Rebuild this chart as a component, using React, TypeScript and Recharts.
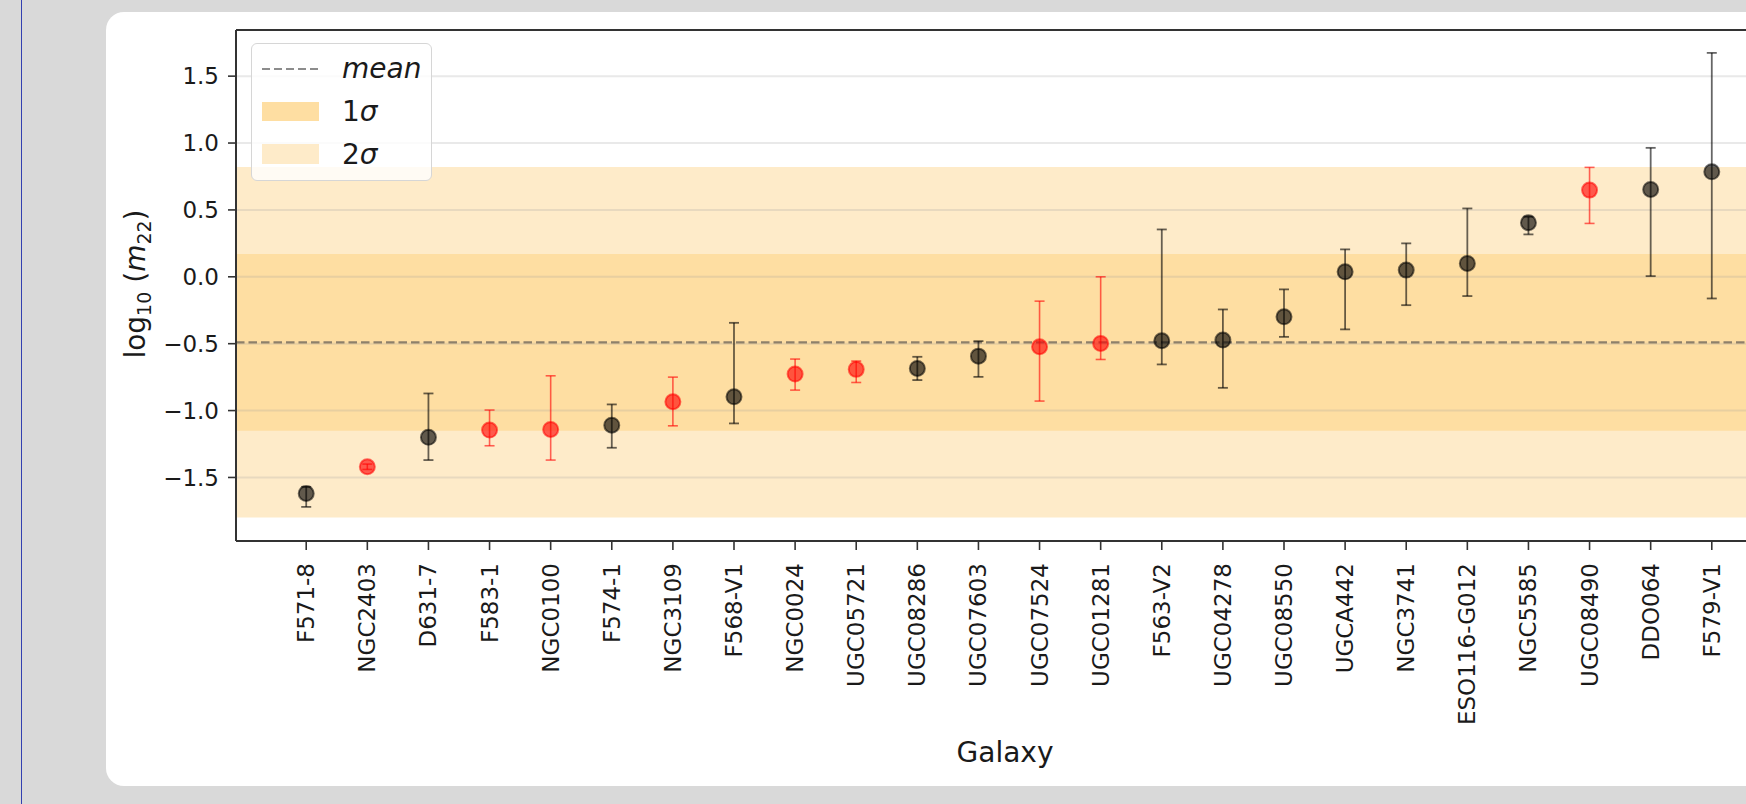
import {
  ComposedChart,
  ErrorBar,
  ReferenceArea,
  ReferenceLine,
  Scatter,
  XAxis,
  YAxis,
} from 'recharts'

const galaxies = [
  'F571-8', 'NGC2403', 'D631-7', 'F583-1', 'NGC0100', 'F574-1', 'NGC3109', 'F568-V1',
  'NGC0024', 'UGC05721', 'UGC08286', 'UGC07603', 'UGC07524', 'UGC01281', 'F563-V2', 'UGC04278',
  'UGC08550', 'UGCA442', 'NGC3741', 'ESO116-G012', 'NGC5585', 'UGC08490', 'DDO064', 'F579-V1',
]
const logM22 = [
  -1.62, -1.42, -1.2, -1.146, -1.141, -1.109, -0.934, -0.897,
  -0.727, -0.692, -0.685, -0.593, -0.523, -0.498, -0.478, -0.473,
  -0.299, 0.037, 0.05, 0.1, 0.404, 0.648, 0.653, 0.785,
]
const lowerBound = [
  -1.72, -1.44, -1.37, -1.263, -1.37, -1.278, -1.114, -1.096,
  -0.847, -0.79, -0.772, -0.748, -0.929, -0.618, -0.655, -0.83,
  -0.449, -0.393, -0.212, -0.144, 0.317, 0.399, 0.005, -0.162,
]
const upperBound = [
  -1.57, -1.4, -0.872, -0.996, -0.74, -0.954, -0.75, -0.344,
  -0.615, -0.63, -0.598, -0.481, -0.182, 0.0, 0.354, -0.244,
  -0.094, 0.205, 0.25, 0.511, 0.449, 0.818, 0.964, 1.674,
]
const flagged = [
  false, true, false, true, true, false, true, false,
  true, true, false, false, true, true, false, false,
  false, false, false, false, false, true, false, false,
]
const yTicks = [-1.5, -1.0, -0.5, 0.0, 0.5, 1.0, 1.5]
const meanValue = -0.49
const oneSigma = [-1.15, 0.17]
const twoSigma = [-1.8, 0.82]
const yDomain: [number, number] = [-1.975, 1.845]
const xDomain: [number, number] = [-1.149, 24.149]

const FONT = '"DejaVu Sans", sans-serif'
const C1 = '#fedea2'
const C2 = '#feebc9'

const points = galaxies.map((name, i) => ({
  x: i,
  y: logM22[i],
  err: [logM22[i] - lowerBound[i], upperBound[i] - logM22[i]],
  name,
  red: flagged[i],
}))
const blackPts = points.filter((p) => !p.red)
const redPts = points.filter((p) => p.red)

const fmt = (v: number) => (v < 0 ? '\u2212' + Math.abs(v).toFixed(1) : v.toFixed(1))

function XTick({ x, y, payload }: any) {
  return (
    <text
      x={x}
      y={y}
      transform={`rotate(-90, ${x}, ${y})`}
      textAnchor="end"
      dominantBaseline="central"
      fontSize={23}
      fontFamily={FONT}
      fill="#1a1a1a"
    >
      {galaxies[payload.value]}
    </text>
  )
}

function YLabel() {
  const x = 145
  const y = 284
  return (
    <text
      x={x}
      y={y}
      transform={`rotate(-90, ${x}, ${y})`}
      textAnchor="middle"
      fontSize={28}
      fontFamily={FONT}
      fill="#1a1a1a"
    >
      log
      <tspan fontSize={19} dy={6}>10</tspan>
      <tspan dy={-6}> (</tspan>
      <tspan fontStyle="italic">m</tspan>
      <tspan fontSize={19} dy={6}>22</tspan>
      <tspan dy={-6}>)</tspan>
    </text>
  )
}

function XLabel() {
  return (
    <text x={1005} y={762} textAnchor="middle" fontSize={28} fontFamily={FONT} fill="#1a1a1a">
      Galaxy
    </text>
  )
}

function dot(color: string) {
  return (p: any) => (
    <circle
      cx={p.cx}
      cy={p.cy}
      r={7.5}
      fill={color}
      fillOpacity={0.62}
      stroke={color}
      strokeOpacity={0.55}
      strokeWidth={2}
    />
  )
}

function LegendBox() {
  return (
    <div
      style={{
        position: 'absolute',
        left: 251,
        top: 43,
        width: 181,
        height: 138,
        boxSizing: 'border-box',
        border: '1.5px solid #d6d6d6',
        borderRadius: 6,
        background: 'rgba(255,255,255,0.8)',
        fontFamily: FONT,
      }}
    >
      <svg width={181} height={138} style={{ position: 'absolute', left: -1, top: -1 }}>
        <line x1={11} x2={68} y1={26} y2={26} stroke="#8c8c8c" strokeWidth={2.2} strokeDasharray="8 4" />
        <rect x={11} y={59} width={57} height={19} fill={C1} />
        <rect x={11} y={101} width={57} height={20} fill={C2} />
        <text x={91} y={35} fontSize={28} fontStyle="italic" fill="#1a1a1a" fontFamily={FONT}>
          mean
        </text>
        <text x={91} y={78} fontSize={28} fill="#1a1a1a" fontFamily={FONT}>
          1<tspan fontStyle="italic">σ</tspan>
        </text>
        <text x={91} y={121} fontSize={28} fill="#1a1a1a" fontFamily={FONT}>
          2<tspan fontStyle="italic">σ</tspan>
        </text>
      </svg>
    </div>
  )
}

export default function App() {
  return (
    <div
      style={{
        position: 'fixed',
        left: 0,
        top: 0,
        width: 1746,
        height: 804,
        overflow: 'hidden',
        background: '#d9d9d9',
      }}
    >
      <div style={{ position: 'absolute', left: 21, top: 0, width: 1, height: 804, background: '#3340b0' }} />
      <div
        style={{
          position: 'absolute',
          left: 106,
          top: 12,
          width: 1720,
          height: 774,
          borderRadius: 18,
          background: '#fff',
        }}
      />
      <div style={{ position: 'absolute', left: 0, top: 0 }}>
        <ComposedChart
          width={1800}
          height={804}
          margin={{ top: 30, right: 18, bottom: 43, left: 136 }}
        >
          <XAxis
            dataKey="x"
            type="number"
            domain={xDomain}
            allowDataOverflow
            ticks={galaxies.map((_, i) => i)}
            interval={0}
            tick={<XTick />}
            tickSize={9}
            tickMargin={13}
            height={220}
            axisLine={{ stroke: '#333', strokeWidth: 2 }}
            tickLine={{ stroke: '#333', strokeWidth: 1.6 }}
            label={<XLabel />}
          />
          <YAxis
            dataKey="y"
            type="number"
            domain={yDomain}
            allowDataOverflow
            ticks={yTicks}
            tickFormatter={fmt}
            width={100}
            tickSize={8}
            tickMargin={9}
            tick={{ fontSize: 23, fontFamily: FONT, fill: '#1a1a1a' }}
            axisLine={{ stroke: '#333', strokeWidth: 2 }}
            tickLine={{ stroke: '#333', strokeWidth: 1.6 }}
            label={<YLabel />}
          />
          <ReferenceArea y1={twoSigma[0]} y2={twoSigma[1]} fill={C2} fillOpacity={1} stroke="none" />
          <ReferenceArea y1={oneSigma[0]} y2={oneSigma[1]} fill={C1} fillOpacity={1} stroke="none" />
          {yTicks.map((t) => (
            <ReferenceLine key={t} y={t} stroke="#9a9a9a" strokeOpacity={0.22} strokeWidth={2} />
          ))}
          <ReferenceLine y={yDomain[1]} stroke="#333" strokeWidth={2} />
          <ReferenceLine y={meanValue} stroke="#7a7060" strokeOpacity={0.85} strokeWidth={2.3} strokeDasharray="8.5 4" />
          <Scatter data={blackPts} shape={dot('#000')} isAnimationActive={false}>
            <ErrorBar dataKey="err" direction="y" width={5} stroke="#000" strokeOpacity={0.6} strokeWidth={1.8} isAnimationActive={false} />
          </Scatter>
          <Scatter data={redPts} shape={dot('#ff0000')} isAnimationActive={false}>
            <ErrorBar dataKey="err" direction="y" width={5} stroke="#ff0000" strokeOpacity={0.6} strokeWidth={1.6} isAnimationActive={false} />
          </Scatter>
        </ComposedChart>
      </div>
      <LegendBox />
    </div>
  )
}
